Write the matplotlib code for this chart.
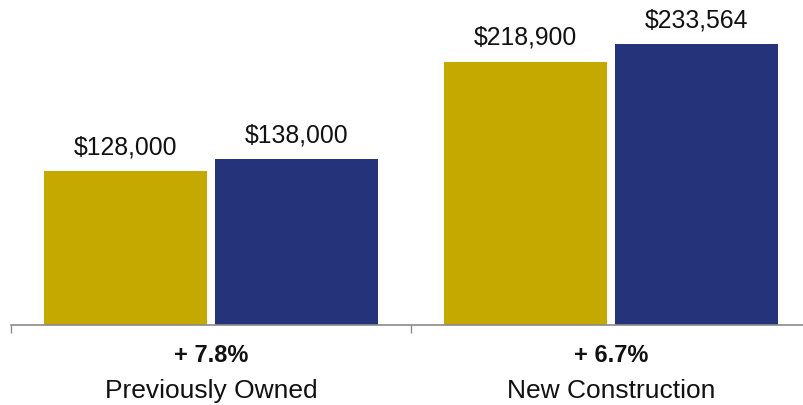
import matplotlib
matplotlib.use("Agg")
import matplotlib.pyplot as plt
import numpy as np

plt.rcParams['font.family'] = ['Liberation Sans', 'DejaVu Sans']

categories = ["Previously Owned", "New Construction"]
changes = ["+ 7.8%", "+ 6.7%"]
series_a = [128000, 218900]   # earlier period (gold)
series_b = [138000, 233564]   # later period (navy)
colors = ["#C5A900", "#25337A"]

W, H = 804, 405
fig = plt.figure(figsize=(W / 100, H / 100), dpi=100)
ax = fig.add_axes([11 / W, (H - 325) / H, 800 / W, 325 / H])

x = np.arange(len(categories))
width = 0.4075
off = 0.214
bars_a = ax.bar(x - off, series_a, width, color=colors[0], linewidth=0)
bars_b = ax.bar(x + off, series_b, width, color=colors[1], linewidth=0)

ax.set_xlim(-0.5, 1.5)
ax.set_ylim(0, 270000)

for s in ["top", "right", "left"]:
    ax.spines[s].set_visible(False)
ax.spines["bottom"].set_color("#8a8a8a")
ax.spines["bottom"].set_linewidth(1.2)
ax.set_yticks([])
ax.set_xticks([-0.5, 0.5, 1.5])
ax.set_xticklabels([])
ax.tick_params(axis="x", direction="out", length=6, width=1.0, color="#8a8a8a")

for bars, vals in ((bars_a, series_a), (bars_b, series_b)):
    for b, v in zip(bars, vals):
        ax.annotate(f"${v:,.0f}", xy=(b.get_x() + b.get_width() / 2, v),
                    xytext=(0, 8.5), textcoords="offset points",
                    ha="center", va="bottom", fontsize=17.8, color="#111111")

for xi, cat, ch in zip(x, categories, changes):
    ax.annotate(ch, xy=(xi, 0), xycoords=("data", "axes fraction"),
                xytext=(0, -31 * 0.72), textcoords="offset points",
                ha="center", va="center", fontsize=17, fontweight="bold",
                color="#111111")
    ax.annotate(cat, xy=(xi, 0), xycoords=("data", "axes fraction"),
                xytext=(0, -66 * 0.72), textcoords="offset points",
                ha="center", va="center", fontsize=19, color="#111111")

fig.savefig("out.png", dpi=100)
